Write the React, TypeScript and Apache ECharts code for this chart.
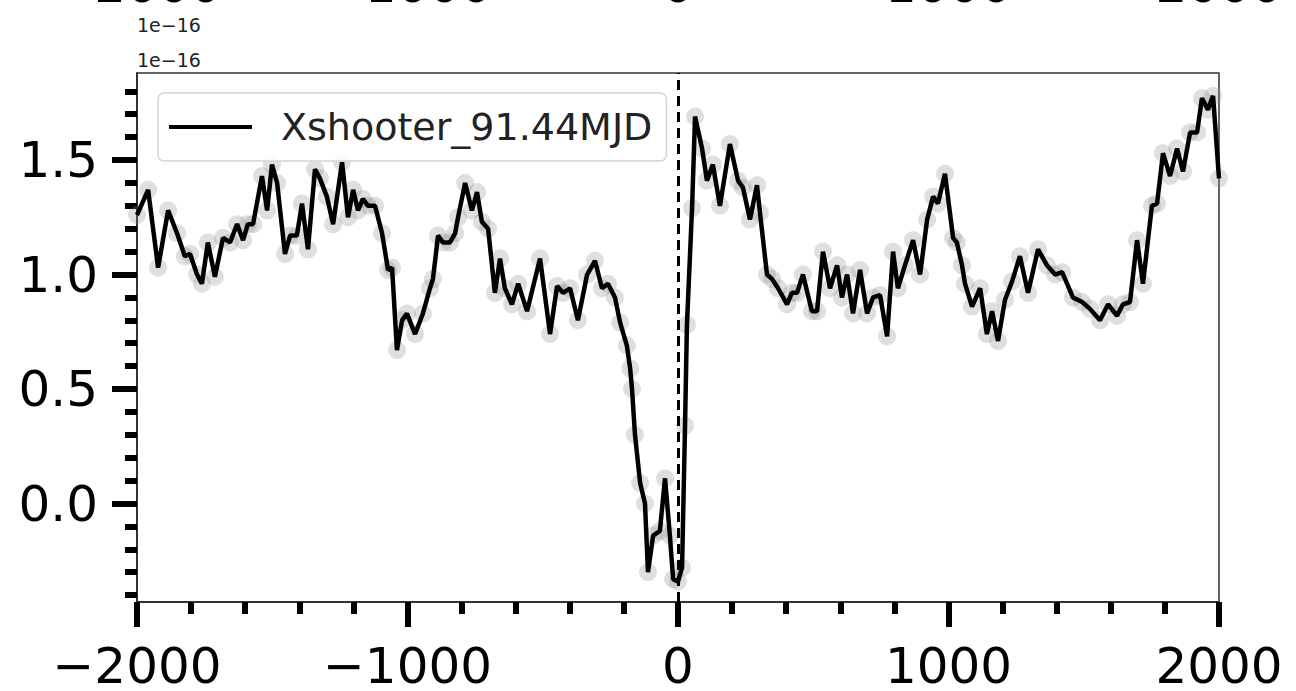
import React, { useEffect, useRef } from "react";
import * as echarts from "echarts";

const seriesName = "Xshooter_91.44MJD";
const offsetText = "1e\u221216";

const velocity = [
  -2000, -1959, -1922, -1885, -1852, -1823, -1804, -1778, -1760, -1738, -1712, -1682, -1656, -1630, -1608, -1590,
  -1571, -1538, -1519, -1501, -1482, -1453, -1434, -1409, -1390, -1368, -1342, -1324, -1298, -1275, -1242, -1220,
  -1201, -1183, -1165, -1146, -1120, -1094, -1072, -1057, -1039, -1020, -1002, -972, -943, -917, -906, -887,
  -869, -843, -824, -813, -787, -762, -743, -725, -702, -677, -658, -640, -614, -591, -558, -510,
  -473, -447, -425, -399, -370, -336, -307, -281, -259, -233, -214, -189, -177, -170, -159, -140,
  -122, -111, -92, -67, -48, -30, -18, 0, 15, 26, 33, 52, 63, 89, 107, 129,
  155, 192, 222, 240, 266, 292, 303, 329, 348, 370, 403, 421, 440, 462, 495, 514,
  536, 562, 588, 606, 625, 647, 673, 699, 721, 747, 773, 795, 813, 839, 869, 895,
  921, 943, 961, 987, 1017, 1031, 1050, 1061, 1087, 1117, 1142, 1161, 1183, 1209, 1235, 1264,
  1294, 1331, 1364, 1394, 1420, 1460, 1494, 1523, 1560, 1590, 1623, 1645, 1671, 1697, 1719, 1752,
  1771, 1793, 1819, 1845, 1867, 1893, 1919, 1937, 1959, 1978, 2000,
];

const flux = [
  1.26, 1.37, 1.03, 1.28, 1.18, 1.08, 1.09, 1.0, 0.96, 1.14, 0.99, 1.16, 1.14, 1.22, 1.15, 1.22,
  1.22, 1.43, 1.28, 1.48, 1.4, 1.09, 1.17, 1.17, 1.31, 1.11, 1.46, 1.42, 1.34, 1.22, 1.49, 1.25,
  1.37, 1.28, 1.33, 1.3, 1.3, 1.18, 1.02, 1.03, 0.67, 0.8, 0.83, 0.74, 0.83, 0.94, 0.98, 1.17,
  1.14, 1.14, 1.18, 1.25, 1.4, 1.28, 1.36, 1.23, 1.2, 0.92, 1.07, 0.94, 0.87, 0.96, 0.84, 1.07,
  0.74, 0.95, 0.92, 0.94, 0.8, 1.0, 1.06, 0.94, 0.96, 0.9, 0.79, 0.69, 0.59, 0.5, 0.3, 0.09,
  0.0, -0.3, -0.14, -0.12, 0.11, -0.14, -0.33, -0.34, -0.28, 0.34, 0.78, 1.29, 1.69, 1.55, 1.41, 1.48,
  1.3, 1.57, 1.41, 1.38, 1.24, 1.39, 1.27, 1.0, 0.98, 0.94, 0.87, 0.92, 0.92, 1.0, 0.84, 0.84,
  1.1, 0.94, 1.04, 0.9, 1.0, 0.83, 1.02, 0.83, 0.9, 0.91, 0.73, 1.1, 0.94, 1.04, 1.15, 1.0,
  1.24, 1.34, 1.31, 1.44, 1.16, 1.14, 1.04, 0.96, 0.86, 0.94, 0.74, 0.84, 0.71, 0.89, 0.97, 1.08,
  0.92, 1.11, 1.04, 1.0, 1.01, 0.9, 0.88, 0.85, 0.8, 0.87, 0.82, 0.87, 0.88, 1.15, 0.96, 1.3,
  1.31, 1.53, 1.43, 1.55, 1.45, 1.62, 1.62, 1.77, 1.72, 1.78, 1.42,
];

const xTicks = [-2000, -1000, 0, 1000, 2000];
const yMajorTicks = [0, 0.5, 1.0, 1.5];
const yMinorTicks = [-0.4, -0.3, -0.2, -0.1, 0.1, 0.2, 0.3, 0.4, 0.6, 0.7, 0.8, 0.9, 1.1, 1.2, 1.3, 1.4, 1.6, 1.7, 1.8];

const X_MIN = -2000;
const X_MAX = 2000;
const Y_MIN = -0.43;
const Y_MAX = 1.88;

const FONT = "DejaVu Sans";

const fmtX = (v: number) => (v < 0 ? "\u2212" + Math.abs(v) : String(v));

export default function App() {
  const ref = useRef<HTMLDivElement>(null);

  useEffect(() => {
    if (!ref.current) return;
    const chart = echarts.init(ref.current, null, { renderer: "svg" });
    const points = velocity.map((v, i) => [v, flux[i]]);
    const gridLeft = 137;
    const gridRight = 77;
    const plotW = 1296 - gridLeft - gridRight;
    const topLabels = xTicks.map((t) => ({
      type: "text",
      x: gridLeft + ((t - X_MIN) / (X_MAX - X_MIN)) * plotW,
      y: -15,
      silent: true,
      style: {
        text: fmtX(t),
        fontSize: 50,
        fontFamily: FONT,
        fill: "#000",
        textAlign: "center",
        textVerticalAlign: "middle",
      },
    }));

    chart.setOption({
      animation: false,
      backgroundColor: "#fff",
      grid: {
        left: gridLeft,
        right: gridRight,
        top: 73,
        bottom: 84,
        show: true,
        borderColor: "#333",
        borderWidth: 1.5,
        backgroundColor: "transparent",
      },
      legend: {
        data: [{ name: seriesName, icon: "rect" }],
        left: 158,
        top: 93,
        orient: "horizontal",
        padding: [15, 14, 15, 11],
        itemWidth: 83,
        itemHeight: 4,
        borderColor: "#d4d4d4",
        borderWidth: 1.5,
        borderRadius: 6,
        backgroundColor: "rgba(255,255,255,0.85)",
        itemStyle: { color: "#000", borderWidth: 0 },
        textStyle: {
          fontFamily: FONT,
          fontSize: 38,
          color: "#222",
          padding: [0, 0, 0, 24],
        },
      },
      xAxis: {
        type: "value",
        min: X_MIN,
        max: X_MAX,
        interval: 1000,
        axisLine: { show: true, onZero: false, lineStyle: { color: "#222", width: 1.5 } },
        axisTick: { show: true, length: 25, lineStyle: { color: "#000", width: 6 } },
        minorTick: { show: true, splitNumber: 5, length: 12, lineStyle: { color: "#000", width: 6 } },
        axisLabel: {
          fontFamily: FONT,
          fontSize: 50,
          color: "#000",
          margin: 39,
          formatter: fmtX,
        },
        splitLine: { show: false },
        minorSplitLine: { show: false },
      },
      yAxis: [
        {
          type: "value",
          min: Y_MIN,
          max: Y_MAX,
          position: "left",
          axisLine: { show: true, onZero: false, lineStyle: { color: "#222", width: 1.5 } },
          axisTick: { show: true, customValues: yMajorTicks, length: 25, lineStyle: { color: "#000", width: 6 } },
          axisLabel: {
            customValues: yMajorTicks,
            fontFamily: FONT,
            fontSize: 50,
            color: "#000",
            margin: 39,
            formatter: (v: number) => v.toFixed(1),
          },
          splitLine: { show: false },
        },
        {
          type: "value",
          min: Y_MIN,
          max: Y_MAX,
          position: "left",
          axisLine: { show: false, onZero: false },
          axisTick: { show: true, customValues: yMinorTicks, length: 12, lineStyle: { color: "#000", width: 6 } },
          axisLabel: { show: false },
          splitLine: { show: false },
        },
      ],
      series: [
        {
          name: "markers",
          type: "scatter",
          data: points,
          symbol: "circle",
          symbolSize: 18,
          itemStyle: { color: "rgba(140,140,140,0.35)" },
          z: 1,
          silent: true,
          legendHoverLink: false,
        },
        {
          name: seriesName,
          type: "line",
          data: points,
          symbol: "none",
          lineStyle: { color: "#000", width: 4.5 },
          itemStyle: { color: "#000" },
          z: 3,
          markLine: {
            silent: true,
            symbol: "none",
            label: { show: false },
            lineStyle: { color: "#000", width: 3, type: [10, 6] },
            data: [{ xAxis: 0 }],
          },
        },
      ],
      graphic: [
        {
          type: "text",
          left: 137,
          top: 15,
          silent: true,
          style: { text: offsetText, fontSize: 19, fontFamily: FONT, fill: "#222" },
        },
        {
          type: "text",
          left: 137,
          top: 50,
          silent: true,
          style: { text: offsetText, fontSize: 19, fontFamily: FONT, fill: "#222" },
        },
        ...topLabels,
      ],
    });
    return () => chart.dispose();
  }, []);

  return (
    <div
      ref={ref}
      style={{ position: "absolute", left: 0, top: 0, width: 1296, height: 691 }}
    />
  );
}
